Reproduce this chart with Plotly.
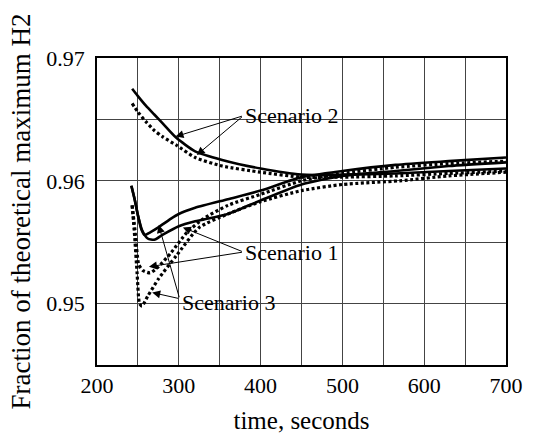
import plotly.graph_objects as go

# ---- data ----
s2_solid_t = [243, 250, 260, 270, 280, 297, 320, 353, 400, 450, 500, 565, 630, 700]
s2_solid_y = [0.9675, 0.9669, 0.9661, 0.9654, 0.9647, 0.9635, 0.9624, 0.9617, 0.9610, 0.9605, 0.9605, 0.9606, 0.9608, 0.9610]

s2_dot_t = [243, 250, 260, 270, 280, 297, 320, 353, 400, 450, 500, 565, 630, 700]
s2_dot_y = [0.9663, 0.9656, 0.9648, 0.9641, 0.9636, 0.9629, 0.9619, 0.9612, 0.9607, 0.9603, 0.9603, 0.9604, 0.9606, 0.9608]

s1_solid_t = [242, 246, 250, 254, 258, 265, 275, 290, 300, 320, 360, 400, 450, 500, 565, 630, 700]
s1_solid_y = [0.9596, 0.9585, 0.9572, 0.9561, 0.9556, 0.9558, 0.9562, 0.9569, 0.9573, 0.9578, 0.9585, 0.9592, 0.9603, 0.9608, 0.9613, 0.9616, 0.9619]

s3_solid_t = [242, 246, 250, 255, 262, 270, 280, 300, 320, 360, 400, 450, 500, 565, 630, 700]
s3_solid_y = [0.9596, 0.9585, 0.9572, 0.9560, 0.9553, 0.9552, 0.9556, 0.9563, 0.9567, 0.9573, 0.9584, 0.9597, 0.9604, 0.9608, 0.9612, 0.9615]

s1_dot_t = [243, 247, 251, 256, 265, 275, 290, 310, 330, 360, 400, 450, 500, 565, 630, 700]
s1_dot_y = [0.9580, 0.9556, 0.9532, 0.9527, 0.9525, 0.9530, 0.9541, 0.9558, 0.9569, 0.9580, 0.9589, 0.9600, 0.9606, 0.9611, 0.9614, 0.9616]

s3_dot_t = [243, 246, 249, 252, 255, 262, 275, 297, 325, 360, 400, 450, 500, 570, 630, 700]
s3_dot_y = [0.9580, 0.9555, 0.9525, 0.9500, 0.9498, 0.9506, 0.9520, 0.9539, 0.9562, 0.9573, 0.9583, 0.9592, 0.9597, 0.9600, 0.9604, 0.9607]

x_ticks = [200, 300, 400, 500, 600, 700]
y_ticks = [0.95, 0.96, 0.97]

FONT = "Times New Roman, Liberation Serif, serif"

fig = go.Figure()
solid = dict(color="black", width=2.6)
dotted = dict(color="black", width=3.2, dash="3px,2.5px")

for t, y, ln, nm in [
    (s2_solid_t, s2_solid_y, solid, "Scenario 2"),
    (s2_dot_t, s2_dot_y, dotted, "Scenario 2"),
    (s1_solid_t, s1_solid_y, solid, "Scenario 1"),
    (s3_solid_t, s3_solid_y, solid, "Scenario 3"),
    (s1_dot_t, s1_dot_y, dotted, "Scenario 1"),
    (s3_dot_t, s3_dot_y, dotted, "Scenario 3"),
]:
    fig.add_trace(go.Scatter(x=t, y=y, mode="lines", line=dict(**ln, shape="spline", smoothing=0.6),
                             name=nm, showlegend=False))

# labels with arrows
labels = [
    ("Scenario 2", 379, 0.9653, [(296, 0.9636), (322, 0.9621)]),
    ("Scenario 1", 379, 0.9542, [(263.5, 0.9530), (305, 0.9562)]),
    ("Scenario 3", 301, 0.9501, [(267.5, 0.9509), (275.4, 0.9564)]),
]
for txt, tx, ty, tips in labels:
    for (px, py) in tips:
        fig.add_annotation(x=px, y=py, ax=tx, ay=ty + (0.0003 if txt == "Scenario 3" else 0),
                           xref="x", yref="y", axref="x", ayref="y",
                           text="", showarrow=True, arrowhead=2, arrowsize=1.6,
                           arrowwidth=1, arrowcolor="black")
    fig.add_annotation(x=tx, y=ty, xref="x", yref="y", text=txt, showarrow=False,
                       xanchor="left", yanchor="middle",
                       font=dict(family=FONT, size=22, color="black"))

fig.update_layout(
    width=535, height=442,
    margin=dict(l=97, r=21, t=58, b=65),
    paper_bgcolor="white", plot_bgcolor="white",
    font=dict(family=FONT, color="black", size=22),
)
fig.update_xaxes(
    range=[200, 700], tickvals=x_ticks, ticktext=[str(v) for v in x_ticks],
    showgrid=True, gridcolor="#444", gridwidth=1.3,
    minor=dict(dtick=50, tick0=200, showgrid=True, gridcolor="#444", gridwidth=1.3),
    showline=True, mirror=True, linecolor="black", linewidth=1.5,
    ticks="", tickfont=dict(family=FONT, size=22, color="black"),
    title=dict(text="time, seconds", font=dict(family=FONT, size=25, color="black"), standoff=14),
    zeroline=False,
)
fig.update_yaxes(
    range=[0.945, 0.97], tickvals=y_ticks, ticktext=["0.95", "0.96", "0.97"],
    showgrid=True, gridcolor="#444", gridwidth=1.3,
    minor=dict(dtick=0.005, tick0=0.945, showgrid=True, gridcolor="#444", gridwidth=1.3),
    showline=True, mirror=True, linecolor="black", linewidth=1.5,
    ticks="", tickfont=dict(family=FONT, size=22, color="black"),
    ticklabelstandoff=6,
    title=dict(text="Fraction of theoretical maximum H2", font=dict(family=FONT, size=27, color="black"), standoff=8),
    zeroline=False,
)

fig.write_html("out.html")
